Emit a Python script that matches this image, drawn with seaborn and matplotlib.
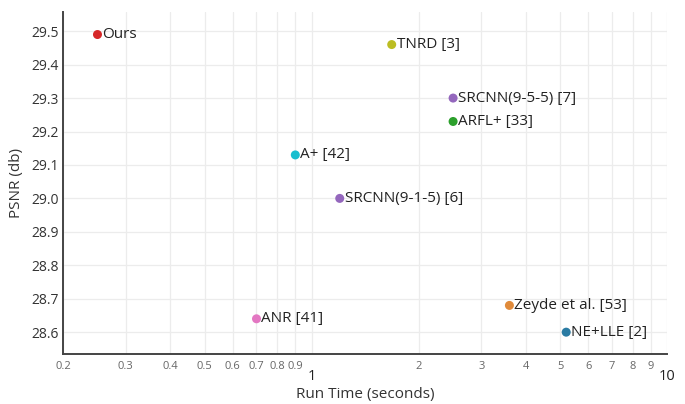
import matplotlib
matplotlib.use("Agg")
import matplotlib.pyplot as plt
import matplotlib.ticker as mticker
import pandas as pd
import seaborn as sns

# values
methods = ["Ours", "TNRD [3]", "SRCNN(9-5-5) [7]", "ARFL+ [33]", "A+ [42]",
           "SRCNN(9-1-5) [6]", "Zeyde et al. [53]", "ANR [41]", "NE+LLE [2]"]
run_time = [0.25, 1.68, 2.5, 2.5, 0.9, 1.2, 3.6, 0.7, 5.2]
psnr = [29.49, 29.46, 29.30, 29.23, 29.13, 29.00, 28.68, 28.64, 28.60]
colors = ["#d62728", "#bcbd22", "#9467bd", "#2ca02c", "#17becf",
          "#9467bd", "#e08a3a", "#e377c2", "#2a7ba3"]

major_x = [1, 10]
minor_x = [0.2, 0.3, 0.4, 0.5, 0.6, 0.7, 0.8, 0.9, 2, 3, 4, 5, 6, 7, 8, 9]
y_ticks = [28.6, 28.7, 28.8, 28.9, 29.0, 29.1, 29.2, 29.3, 29.4, 29.5]

df = pd.DataFrame({"method": methods, "time": run_time, "psnr": psnr})

sns.set_style("white")
plt.rcParams["font.family"] = ["Open Sans", "DejaVu Sans"]

fig = plt.figure(figsize=(6.85, 4.04), dpi=100)
ax = fig.add_axes([0.092, 0.124, 0.882, 0.846])

sns.scatterplot(data=df, x="time", y="psnr", hue="method",
                palette=dict(zip(methods, colors)), s=42, edgecolor="none",
                legend=False, ax=ax, zorder=3)

for m, t, p in zip(methods, run_time, psnr):
    ax.annotate(m, (t, p), xytext=(3.5, 0), textcoords="offset points",
                va="center", ha="left", fontsize=11, color="#222222")

ax.set_xscale("log")
ax.set_xlim(0.2, 10)
ax.set_ylim(28.535, 29.557)

ax.xaxis.set_major_locator(mticker.FixedLocator(major_x))
ax.xaxis.set_major_formatter(mticker.FixedFormatter([str(v) for v in major_x]))
ax.xaxis.set_minor_locator(mticker.FixedLocator(minor_x))
ax.xaxis.set_minor_formatter(mticker.FixedFormatter([f"{v:g}" for v in minor_x]))
ax.set_yticks(y_ticks)
ax.set_yticklabels([f"{v:.1f}" for v in y_ticks])

ax.tick_params(axis="x", which="minor", length=0, labelsize=8, labelcolor="#666666", pad=5)
ax.tick_params(axis="x", which="major", length=0, labelsize=10.5, labelcolor="#222222", pad=11)
ax.tick_params(axis="y", length=0, labelsize=10, labelcolor="#333333", pad=3)

ax.grid(True, which="both", axis="x", color="#ececec", linewidth=0.9)
ax.grid(True, which="major", axis="y", color="#ececec", linewidth=0.9)
ax.set_axisbelow(True)

for side in ["top", "right"]:
    ax.spines[side].set_visible(False)
for side in ["left", "bottom"]:
    ax.spines[side].set_color("#444444")
    ax.spines[side].set_linewidth(1.4)

ax.set_xlabel("Run Time (seconds)", fontsize=11, color="#333333", labelpad=2)
ax.set_ylabel("PSNR (db)", fontsize=11, color="#333333", labelpad=5)

fig.savefig("out.png", dpi=100)
